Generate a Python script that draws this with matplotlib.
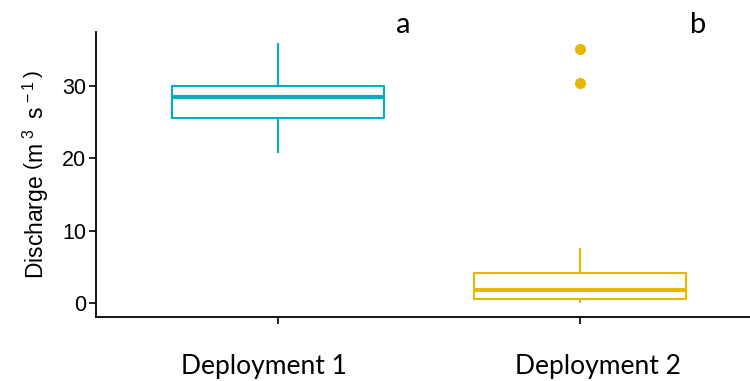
import matplotlib
matplotlib.use("Agg")
import matplotlib.pyplot as plt

groups = ["Deployment 1", "Deployment 2"]
colors = ["#00AFBB", "#E7B800"]
whislo = [20.8, 0.2]
q1 = [25.5, 0.5]
med = [28.4, 1.8]
q3 = [29.9, 4.2]
whishi = [35.7, 7.4]
outliers = [[], [30.3, 35.1]]
letters = ["a", "b"]

plt.rcParams['mathtext.fontset'] = 'custom'
plt.rcParams['mathtext.rm'] = 'Liberation Sans'
plt.rcParams['mathtext.it'] = 'Liberation Sans'

W, H = 750, 381
fig = plt.figure(figsize=(W/100, H/100), dpi=100)
ax = fig.add_axes([96/W, 1-317/H, 654/W, (317-32)/H])

for i in range(len(groups)):
    st = [dict(whislo=whislo[i], q1=q1[i], med=med[i], q3=q3[i], whishi=whishi[i], fliers=outliers[i])]
    c = colors[i]
    ax.bxp(st, positions=[i+1], widths=0.7, showcaps=False, patch_artist=False,
           boxprops=dict(color=c, linewidth=1.5),
           whiskerprops=dict(color=c, linewidth=1.5),
           medianprops=dict(color=c, linewidth=3),
           flierprops=dict(marker='o', markerfacecolor=c, markeredgecolor=c, markersize=7))

ax.set_xlim(0.40, 2.56)
ax.set_ylim(-1.93, 37.4)
ax.set_xticks([1, 2])
ax.set_xticklabels(["", ""])
label_dx = [-14/303, 17.5/303]
for i, g in enumerate(groups):
    ax.text(i + 1 + label_dx[i], -0.172, g, transform=ax.get_xaxis_transform(),
            family="Lato", fontsize=19, ha='center', va='center')
ax.set_yticks([0, 10, 20, 30])
ax.set_yticklabels(["0", "10", "20", "30"], family="Liberation Sans", fontsize=15.5)
ax.tick_params(axis='both', length=5, width=1.2, color='black')
ax.tick_params(axis='y', pad=2)
for s in ["top", "right"]:
    ax.spines[s].set_visible(False)
for s in ["left", "bottom"]:
    ax.spines[s].set_linewidth(1.3)
ax.set_ylabel(r"Discharge $\left(\mathrm{m}^{\,\,3}\;\;\mathrm{s}^{\,-1}\,\right)$",
              family="Liberation Sans", fontsize=16.5, labelpad=8)

letter_x = [1.416, 2.39]
for i, l in enumerate(letters):
    ax.text(letter_x[i], 37.2, l, family="Lato", fontsize=21, ha='center', va='baseline', clip_on=False)

fig.savefig("out.png", dpi=100)
